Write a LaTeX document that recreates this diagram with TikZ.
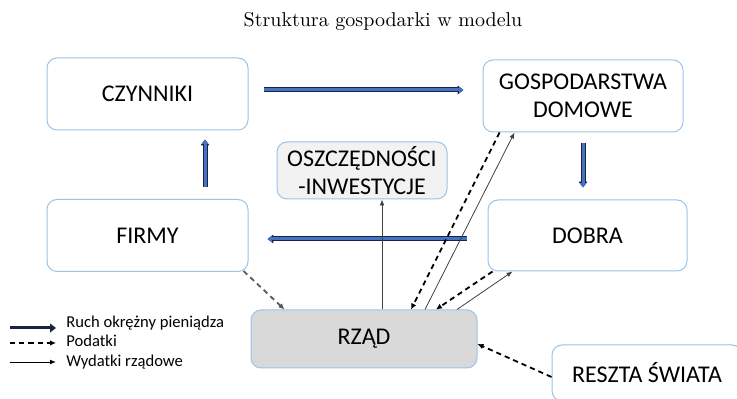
\documentclass[tikz,border=0pt]{standalone}
\usepackage{fontspec}
\newfontfamily\boxfont{Carlito}
\usetikzlibrary{arrows.meta,positioning,calc}
\definecolor{boxline}{HTML}{9DC3E6}
\definecolor{moneyblue}{HTML}{4472C4}
\definecolor{moneyline}{HTML}{1A2440}
\definecolor{savefill}{HTML}{F2F2F2}
\definecolor{govfill}{HTML}{D9D9D9}

\begin{document}
\begin{tikzpicture}[x=0.5pt,y=-0.5pt,
    sector/.style={draw=boxline, line width=0.5pt, rounded corners=5pt, fill=white, inner sep=0pt,
      align=center, font=\boxfont\fontsize{12}{14}\selectfont},
    moneyflow/.style={line width=1.5pt, draw=moneyblue, -{Triangle[length=2.2pt,width=3.2pt,fill=moneyblue]},
      preaction={draw=moneyline, line width=2.5pt, -{Triangle[length=2.9pt,width=4.2pt]}}},
    tax/.style={dash pattern=on 2.6pt off 2pt, line width=0.9pt, -{Latex[length=3pt,width=2.8pt]}},
    spend/.style={line width=0.4pt, draw=black!75, -{Latex[length=3pt,width=2.4pt]}},
    legendtext/.style={anchor=base west, inner sep=0pt, font=\boxfont\fontsize{8.3}{10}\selectfont}]
    \useasboundingbox (0,0) rectangle (737,399);

    % Title
    \node (title) at (383,22) {Struktura gospodarki w modelu};

    % Sectors
    \node[sector, minimum width=100.5pt, minimum height=36pt] (czynniki) at (147.5,94) {CZYNNIKI};
    \node[sector, minimum width=100.5pt, minimum height=36pt] (firmy) at (147.5,235.5) {FIRMY};
    \node[sector, minimum width=100pt, minimum height=36pt] (gosp) at (583,96) {GOSPODARSTWA\\DOMOWE};
    \node[sector, minimum width=99.5pt, minimum height=35.5pt] (dobra) at (587.5,235.5) {DOBRA};
    \node[sector, fill=savefill, minimum width=85pt, minimum height=28.5pt] (oszcz) at (362,170.5) {OSZCZĘDNOŚCI\\-INWESTYCJE};
    \node[sector, fill=govfill, minimum width=113pt, minimum height=29pt] (rzad) at (364,339) {RZĄD};
    \node[sector, minimum width=95pt, minimum height=28pt] (reszta) at (647,373) {RESZTA ŚWIATA};

    % Circular flow of money
    \draw[moneyflow] ($(czynniki.east)+(15,-4)$) -- ($(gosp.west)+(-19,-6)$);
    \draw[moneyflow] ($(gosp.south)+(0,11)$) -- ($(gosp.south |- dobra.north)+(0,-12)$);
    \draw[moneyflow] ($(dobra.west)+(-21,3.5)$) -- ($(firmy.east)+(19,3.5)$);
    \draw[moneyflow] ($(firmy.north)+(57.5,-12)$) -- ($(czynniki.south)+(57.5,9)$);

    % Taxes
    \draw[tax, draw=black!65] ($(firmy.south east)+(-5,-1)$) -- ($(rzad.north west)+(34,0)$);
    \draw[tax] ($(gosp.south west)+(17,0)$) -- ($(rzad.north)+(47,0)$);
    \draw[tax] ($(dobra.south west)+(5,0)$) -- ($(rzad.north)+(72,0)$);
    \draw[tax] ($(reszta.west)+(0,4)$) -- ($(rzad.east)+(0,5)$);

    % Government spending
    \draw[spend] ($(rzad.north)+(18,0)$) -- ($(oszcz.south)+(20,0)$);
    \draw[spend] ($(rzad.north)+(61,0)$) -- ($(gosp.south west)+(32,0)$);
    \draw[spend] ($(rzad.north)+(93,0)$) -- ($(dobra.south west)+(25,0)$);

    % Legend
    \coordinate (l1a) at (10,328); \coordinate (l1b) at (56,328);
    \coordinate (l2a) at (10,343); \coordinate (l2b) at (56,343);
    \coordinate (l3a) at (10,362); \coordinate (l3b) at (56,362);
    \draw[line width=1.5pt, draw=moneyline, -{Triangle[length=3pt,width=4.4pt]}] (l1a) -- (l1b);
    \draw[tax] (l2a) -- (l2b);
    \draw[spend, draw=black] (l3a) -- (l3b);
    \node[legendtext] (leg1) at (66,328) {Ruch okrężny pieniądza};
    \node[legendtext] (leg2) at (66,347) {Podatki};
    \node[legendtext] (leg3) at (66,367) {Wydatki rządowe};
\end{tikzpicture}
\end{document}
